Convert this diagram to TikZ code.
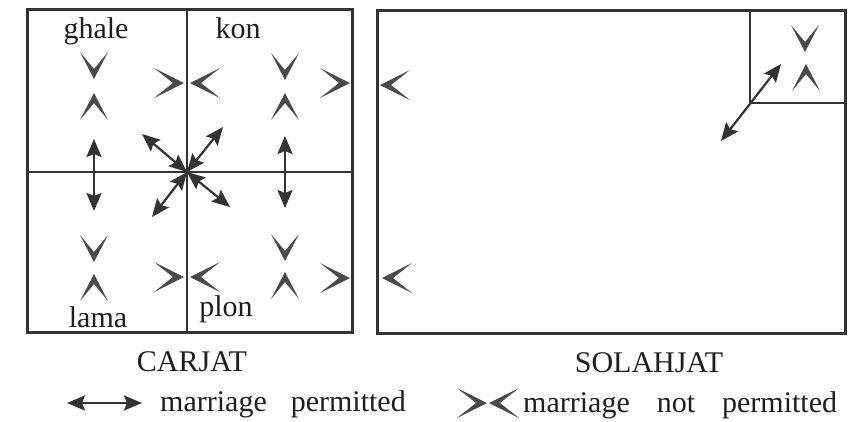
\documentclass[tikz,border=0pt]{standalone}
\usepackage{fontspec}
\setmainfont{Liberation Serif}
\usetikzlibrary{arrows.meta}
\definecolor{ink}{HTML}{333333}
\definecolor{textink}{HTML}{1E1E1E}
\definecolor{chevink}{HTML}{4A4A4A}
\tikzset{
  frame/.style={draw=ink, line width=3pt},
  divider/.style={draw=ink, line width=2.4pt},
  wed/.style={draw=ink, line width=2.2pt,
    {Stealth[length=18pt,width=15pt,inset=3pt]}-{Stealth[length=18pt,width=15pt,inset=3pt]}},
  lbl/.style={font=\fontsize{30}{35}\selectfont, text=textink, inner sep=0pt, anchor=base},
  % chevrons: tip at the pic origin
  chevR/.pic={\fill[chevink] (-30,-15) -- (0,0) -- (-30,15) -- (-11,0) -- cycle;},
  chevL/.pic={\fill[chevink] (30,-15) -- (0,0) -- (30,15) -- (11,0) -- cycle;},
  chevD/.pic={\fill[chevink] (-14,-27) -- (0,0) -- (14,-27) -- (0,-10) -- cycle;},
  chevU/.pic={\fill[chevink] (-14,27) -- (0,0) -- (14,27) -- (0,10) -- cycle;},
}
\begin{document}
\begin{tikzpicture}[x=1pt,y=-1pt]
\useasboundingbox (0,0) rectangle (849,421);
\fill[white] (0,0) rectangle (849,421);

% ---- CARJAT block ----
\draw[frame] (27,9) rectangle (352,332);
\draw[divider] (187,9) -- (187,332);
\draw[divider] (27,172) -- (352,172);

\node[lbl] (ghale) at (96,38) {ghale};
\node[lbl] (kon) at (238,38) {kon};
\node[lbl] (lama) at (98,327) {lama};
\node[lbl] (plon) at (226,316) {plon};

% not permitted within each group
\pic at (94,79) {chevD};
\pic at (94,93) {chevU};
\pic at (285,80) {chevD};
\pic at (285,93) {chevU};
\pic at (94,262) {chevD};
\pic at (94,274) {chevU};
\pic at (285,261) {chevD};
\pic at (285,272) {chevU};

% not permitted across the vertical divider
\pic at (184,83) {chevR};
\pic at (190,83) {chevL};
\pic at (184,277) {chevR};
\pic at (190,277) {chevL};

% not permitted between the two blocks
\pic at (350,83) {chevR};
\pic at (350,278) {chevR};
\pic at (380,85) {chevL};
\pic at (382,278) {chevL};

% permitted unions
\coordinate (hub) at (187,172);
\coordinate (nw) at (142,134);
\coordinate (ne) at (223,127);
\coordinate (sw) at (152,217);
\coordinate (se) at (230,207);
\coordinate (gl) at (94,139);
\coordinate (ll) at (94,211);
\coordinate (kp) at (285,136);
\coordinate (pp) at (285,208);
\draw[wed] (gl) -- (ll);
\draw[wed] (kp) -- (pp);
\draw[wed] (hub) -- (nw);
\draw[wed] (hub) -- (ne);
\draw[wed] (hub) -- (sw);
\draw[wed] (hub) -- (se);

\node[lbl] (carjat) at (192,371) {CARJAT};

% ---- SOLAHJAT block ----
\draw[frame] (377,10) rectangle (845,333);
\draw[divider] (750,10) -- (750,103) -- (845,103);
\pic at (805,52) {chevD};
\pic at (806,64) {chevU};
\coordinate (inner) at (781,64);
\coordinate (outer) at (721,141);
\draw[wed] (inner) -- (outer);

\node[lbl] (solahjat) at (649,372) {SOLAHJAT};

% ---- legend ----
\coordinate (kl) at (67,403);
\coordinate (kr) at (142,403);
\draw[wed] (kl) -- (kr);
\node[lbl, anchor=base west] (permit) at (160,411) {marriage\hspace{0.8em}permitted};
\pic at (487,403) {chevR};
\pic at (489,403) {chevL};
\node[lbl, anchor=base west] (nopermit) at (523,412) {marriage\hspace{0.9em}not\hspace{0.9em}permitted};
\end{tikzpicture}
\end{document}
